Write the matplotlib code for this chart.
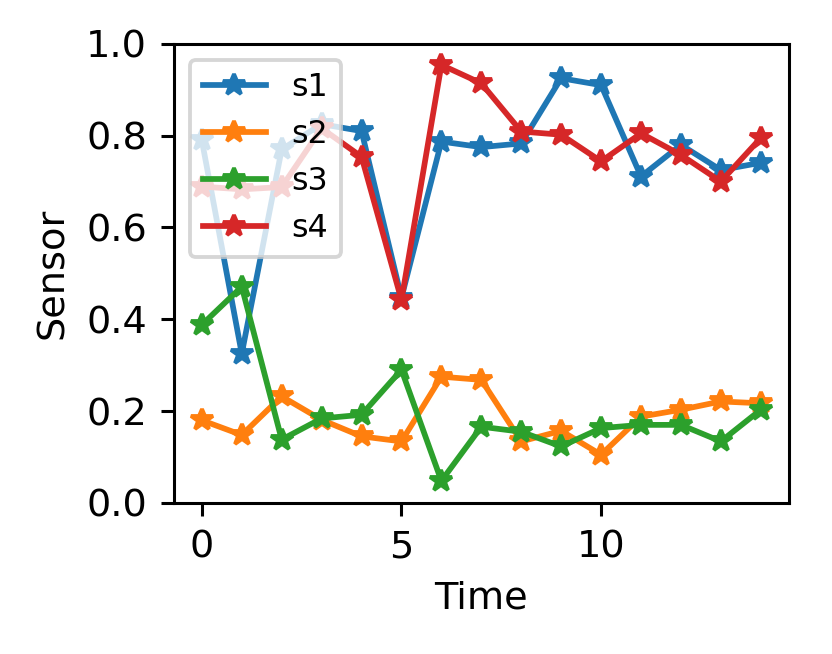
import matplotlib
matplotlib.use('Agg')
import matplotlib.pyplot as plt
import numpy as np

time = list(range(15))
s1 = [0.79, 0.325, 0.77, 0.825, 0.81, 0.447, 0.787, 0.775, 0.783, 0.925, 0.91, 0.711, 0.78, 0.725, 0.741]
s2 = [0.18, 0.148, 0.232, 0.181, 0.145, 0.134, 0.275, 0.268, 0.134, 0.157, 0.105, 0.188, 0.203, 0.221, 0.217]
s3 = [0.388, 0.471, 0.138, 0.184, 0.192, 0.29, 0.048, 0.166, 0.155, 0.123, 0.163, 0.17, 0.17, 0.134, 0.203]
s4 = [0.689, 0.683, 0.688, 0.816, 0.754, 0.442, 0.954, 0.914, 0.809, 0.802, 0.744, 0.805, 0.758, 0.7, 0.795]
names = ['s1', 's2', 's3', 's4']

dpi = 275
fig = plt.figure(figsize=(832/dpi, 654/dpi), dpi=dpi)
ax = fig.add_axes([0.209, 0.231, 0.739, 0.702])

for vals, name in zip([s1, s2, s3, s4], names):
    ax.plot(time, vals, marker='*', label=name)

ax.set_ylim(0, 1)
ax.set_xlabel('Time')
ax.set_ylabel('Sensor')
ax.legend(loc='upper left', fontsize='small')

fig.savefig('out.png', dpi=dpi)
